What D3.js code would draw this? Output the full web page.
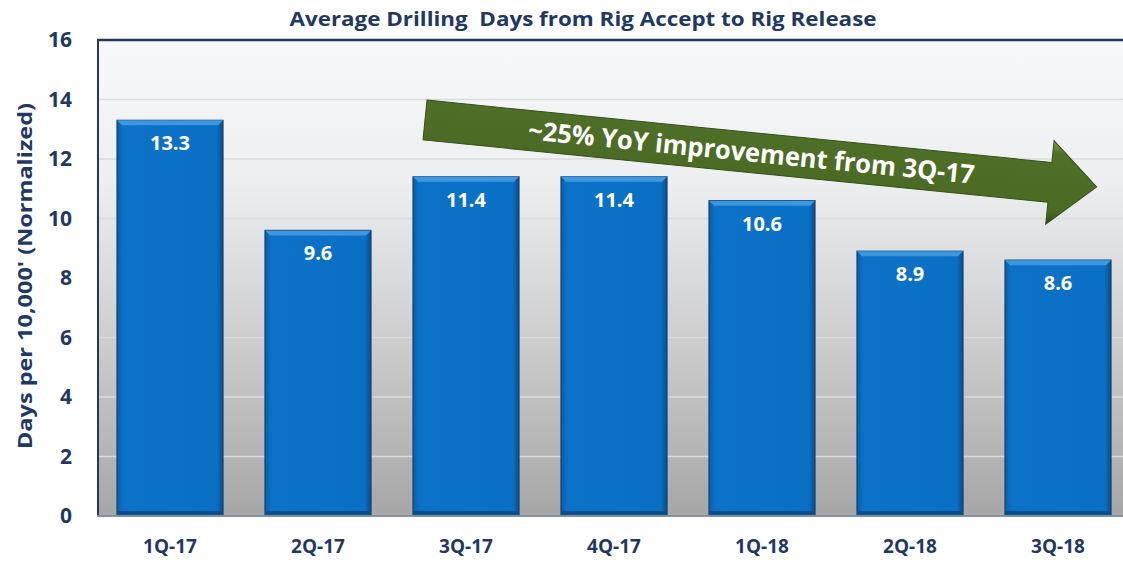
<!DOCTYPE html>
<html lang="en">
<head>
	<meta charset="utf-8">
	<title>Average Drilling Days</title>
	<style type="text/css">
		body { margin: 0; background: #fff; }
		svg text { font-family: "Open Sans", "Noto Sans", sans-serif; font-weight: bold; }
	</style>
</head>
<body>
	<svg id="chart"></svg>

	<script src="https://cdnjs.cloudflare.com/ajax/libs/d3/7.8.5/d3.min.js"></script>
	<script type="text/javascript">
		// chart data
		var quarters = ["1Q-17", "2Q-17", "3Q-17", "4Q-17", "1Q-18", "2Q-18", "3Q-18"];
		var days = [13.3, 9.6, 11.4, 11.4, 10.6, 8.9, 8.6];
		var yTicks = [0, 2, 4, 6, 8, 10, 12, 14, 16];
		var title = "Average Drilling  Days from Rig Accept to Rig Release";
		var yTitle = "Days per 10,000' (Normalized)";
		var arrowText = "~25% YoY improvement from 3Q-17";

		var w = 1123, h = 563;
		var plotLeft = 98, plotTop = 40, plotBottom = 516;
		var navy = "#1f3864";

		var svg = d3.select("#chart").attr("width", w).attr("height", h);
		var defs = svg.append("defs");

		// plot background gradient
		var bg = defs.append("linearGradient").attr("id", "bg")
			.attr("x1", 0).attr("y1", 0).attr("x2", 0).attr("y2", 1);
		bg.append("stop").attr("offset", "0").attr("stop-color", "#f8f9fb");
		bg.append("stop").attr("offset", "0.3").attr("stop-color", "#eceef0");
		bg.append("stop").attr("offset", "0.65").attr("stop-color", "#cbcbcc");
		bg.append("stop").attr("offset", "1").attr("stop-color", "#a6a6a6");

		var barGrad = defs.append("linearGradient").attr("id", "bar")
			.attr("x1", 0).attr("y1", 0).attr("x2", 1).attr("y2", 0);
		barGrad.append("stop").attr("offset", "0").attr("stop-color", "#0a5fa8");
		barGrad.append("stop").attr("offset", "0.06").attr("stop-color", "#0b72c8");
		barGrad.append("stop").attr("offset", "0.94").attr("stop-color", "#0a70c5");
		barGrad.append("stop").attr("offset", "1").attr("stop-color", "#0a4e8a");

		var arrowGrad = defs.append("linearGradient").attr("id", "arrow")
			.attr("x1", 0).attr("y1", 0).attr("x2", 0).attr("y2", 1);
		arrowGrad.append("stop").attr("offset", "0").attr("stop-color", "#7a9c4c");
		arrowGrad.append("stop").attr("offset", "0.15").attr("stop-color", "#4f7028");
		arrowGrad.append("stop").attr("offset", "0.85").attr("stop-color", "#4a6a24");
		arrowGrad.append("stop").attr("offset", "1").attr("stop-color", "#2f4816");

		var x = d3.scaleBand()
			.domain(quarters)
			.range([plotLeft - 2, plotLeft - 2 + 7 * 148])
			.paddingInner(0.284)
			.paddingOuter(0.142);

		var y = d3.scaleLinear()
			.domain([0, 16])
			.range([plotBottom, plotTop]);

		// background
		svg.append("rect")
			.attr("x", plotLeft).attr("y", plotTop)
			.attr("width", w - plotLeft).attr("height", plotBottom - plotTop)
			.attr("fill", "url(#bg)");

		// gridlines
		svg.append("g").selectAll("line")
			.data(yTicks.filter(d => d > 0 && d < 16))
			.join("line")
			.attr("x1", plotLeft).attr("x2", w)
			.attr("y1", d => y(d)).attr("y2", d => y(d))
			.attr("stroke", "#dadbdd").attr("stroke-width", 1.5);

		// bars
		var bars = svg.append("g").selectAll("g")
			.data(days)
			.join("g");

		bars.append("rect")
			.attr("x", (d, i) => x(quarters[i]))
			.attr("y", d => y(d))
			.attr("width", x.bandwidth())
			.attr("height", d => plotBottom - y(d))
			.attr("fill", "url(#bar)")
			.attr("stroke", "#123f6d")
			.attr("stroke-width", 1.2);

		// top bevel
		bars.append("path")
			.attr("d", function (d, i) {
				var x0 = x(quarters[i]), x1 = x0 + x.bandwidth(), y0 = y(d);
				return "M" + x0 + "," + y0 + "L" + x1 + "," + y0 + "L" + (x1 - 5) + "," + (y0 + 5) +
					"L" + (x0 + 5) + "," + (y0 + 5) + "Z";
			})
			.attr("fill", "#3d97e0");

		// bottom shade
		bars.append("rect")
			.attr("x", (d, i) => x(quarters[i]) + 1)
			.attr("y", plotBottom - 5)
			.attr("width", x.bandwidth() - 2)
			.attr("height", 4)
			.attr("fill", "#0a4f8c");

		bars.append("text")
			.attr("x", (d, i) => x(quarters[i]) + x.bandwidth() / 2)
			.attr("y", d => y(d) + 30)
			.attr("text-anchor", "middle")
			.attr("fill", "#fff")
			.attr("font-size", 20)
			.text(d => d.toFixed(1));

		// frame lines
		svg.append("line")
			.attr("x1", plotLeft - 1).attr("x2", w).attr("y1", plotTop).attr("y2", plotTop)
			.attr("stroke", navy).attr("stroke-width", 2.5);
		svg.append("line")
			.attr("x1", plotLeft).attr("x2", plotLeft).attr("y1", plotTop).attr("y2", plotBottom)
			.attr("stroke", navy).attr("stroke-width", 2);
		svg.append("line")
			.attr("x1", plotLeft - 1).attr("x2", w).attr("y1", plotBottom).attr("y2", plotBottom)
			.attr("stroke", "#8090a8").attr("stroke-width", 2);

		// y axis labels
		var yAxis = d3.axisLeft(y).tickValues(yTicks).tickSize(0).tickPadding(26);
		var yg = svg.append("g").attr("transform", "translate(" + plotLeft + ",0)").call(yAxis);
		yg.select(".domain").remove();
		yg.selectAll("text").attr("font-size", 21).attr("fill", navy)
			.style("font-family", "'Open Sans', sans-serif").style("font-weight", "bold");

		// x axis labels
		var xAxis = d3.axisBottom(x).tickSize(0).tickPadding(24);
		var xg = svg.append("g").attr("transform", "translate(0," + plotBottom + ")").call(xAxis);
		xg.select(".domain").remove();
		xg.selectAll("text").attr("font-size", 19).attr("fill", navy)
			.style("font-family", "'Open Sans', sans-serif").style("font-weight", "bold");

		// titles
		svg.append("text")
			.attr("x", 583).attr("y", 26)
			.attr("text-anchor", "middle")
			.attr("font-size", 20)
			.attr("fill", navy)
			.attr("textLength", 587)
			.attr("lengthAdjust", "spacingAndGlyphs")
			.style("white-space", "pre")
			.text(title);

		svg.append("text")
			.attr("transform", "translate(32,276) rotate(-90)")
			.attr("text-anchor", "middle")
			.attr("font-size", 20)
			.attr("fill", navy)
			.attr("textLength", 346)
			.attr("lengthAdjust", "spacingAndGlyphs")
			.text(yTitle);

		// trend arrow
		var angle = 5.7;
		var arrow = svg.append("g")
			.attr("transform", "translate(425,120) rotate(" + angle + ")");
		var shaftLen = 628, half = 20, headHalf = 42, tip = 675;
		arrow.append("path")
			.attr("d", d3.line()([[0, -half], [shaftLen, -half], [shaftLen, -headHalf], [tip, 0],
				[shaftLen, headHalf], [shaftLen, half], [0, half]]) + "Z")
			.attr("fill", "url(#arrow)")
			.attr("stroke", "#34501a")
			.attr("stroke-width", 1);
		arrow.append("text")
			.attr("x", 328).attr("y", 9)
			.attr("text-anchor", "middle")
			.attr("font-size", 26)
			.attr("fill", "#fff")
			.attr("textLength", 448)
			.attr("lengthAdjust", "spacingAndGlyphs")
			.text(arrowText);
	</script>
</body>
</html>
